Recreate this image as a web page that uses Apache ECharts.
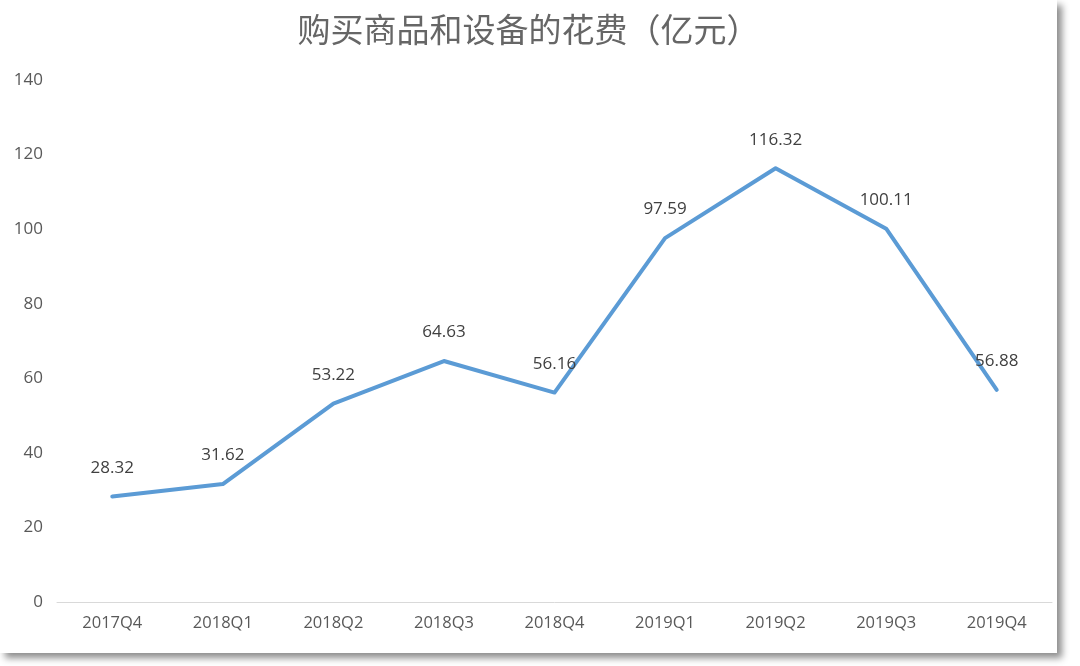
<!DOCTYPE html>
<html>
<head>
<meta charset="utf-8">
<script src="https://cdn.jsdelivr.net/npm/echarts@6/dist/echarts.min.js"></script>
<style>
  html, body { margin: 0; padding: 0; background: #ffffff; width: 1080px; height: 666px; overflow: hidden; }
  #card { position: absolute; left: 0; top: 0; width: 1057px; height: 653px; background: #ffffff;
          box-shadow: 5px 5px 7px rgba(0,0,0,0.45); }
  #chart { width: 1057px; height: 653px; }
</style>
</head>
<body>
<div id="card"><div id="chart"></div></div>
<script>
const titleText = '购买商品和设备的花费（亿元）';
const categories = ['2017Q4','2018Q1','2018Q2','2018Q3','2018Q4','2019Q1','2019Q2','2019Q3','2019Q4'];
const spending = [28.32, 31.62, 53.22, 64.63, 56.16, 97.59, 116.32, 100.11, 56.88];
const yMin = 0, yMax = 140, yStep = 20;

const chart = echarts.init(document.getElementById('chart'), null, { renderer: 'canvas' });
chart.setOption({
  animation: false,
  backgroundColor: '#ffffff',
  title: {
    text: titleText,
    left: 'center',
    top: 8,
    textStyle: { fontFamily: 'Noto Sans CJK SC', fontWeight: 'normal', fontSize: 33, color: '#666666' }
  },
  grid: { left: 57, right: 5, top: 80, bottom: 51, containLabel: false },
  xAxis: {
    type: 'category',
    data: categories,
    boundaryGap: true,
    axisLine: { show: true, lineStyle: { color: '#d9d9d9', width: 1 } },
    axisTick: { show: false },
    axisLabel: { color: '#595959', fontSize: 16.5, fontFamily: 'Open Sans', margin: 13 },
    splitLine: { show: false }
  },
  yAxis: {
    type: 'value',
    min: yMin, max: yMax, interval: yStep,
    axisLine: { show: false },
    axisTick: { show: false },
    axisLabel: { color: '#595959', fontSize: 17, fontFamily: 'Open Sans', margin: 14 },
    splitLine: { show: false }
  },
  series: [{
    type: 'line',
    data: spending,
    showSymbol: true,
    symbol: 'circle',
    symbolSize: 2,
    itemStyle: { color: 'rgba(91,155,213,0)', borderColor: 'rgba(91,155,213,0)', borderWidth: 0 },
    lineStyle: { color: '#5b9bd5', width: 4, cap: 'round', join: 'round' },
    label: {
      show: true,
      position: 'top',
      distance: 19,
      color: '#404040',
      fontSize: 17,
      fontFamily: 'Open Sans',
      formatter: p => p.value.toFixed(2)
    },
    labelLayout: { hideOverlap: false }
  }]
});
</script>
</body>
</html>
